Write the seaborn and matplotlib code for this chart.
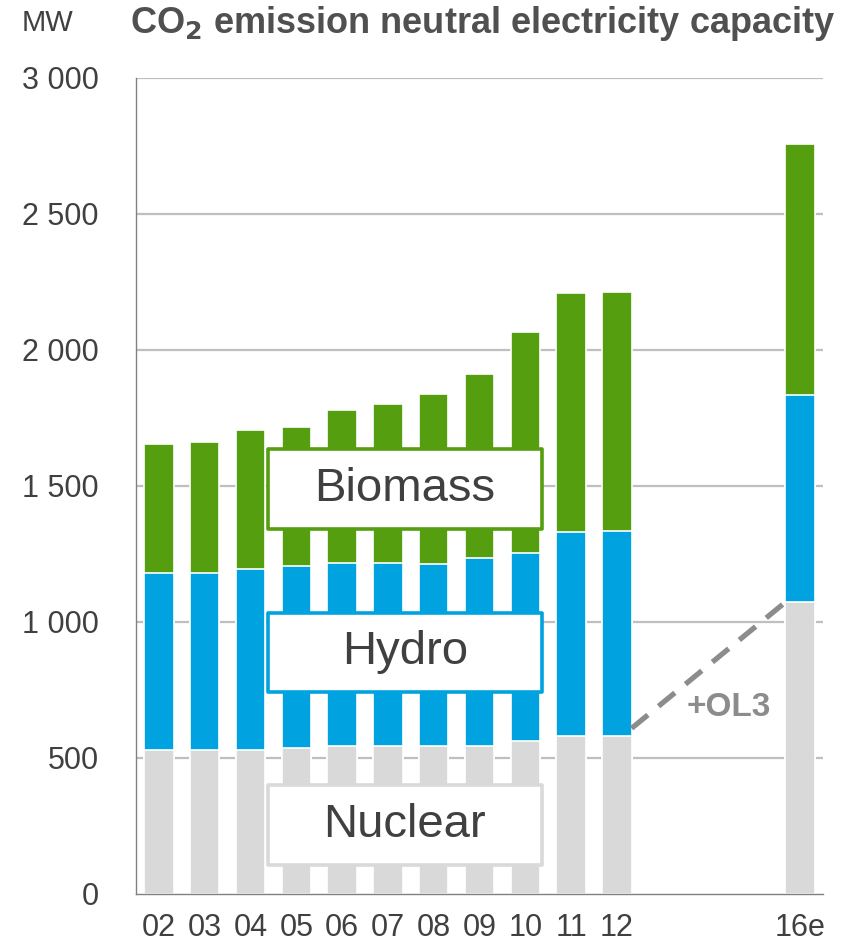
import numpy as np
import pandas as pd
import matplotlib
matplotlib.use("Agg")
import matplotlib.pyplot as plt
import seaborn as sns
from matplotlib.patches import Rectangle

# 数据 (MW)
years = ["02", "03", "04", "05", "06", "07", "08", "09", "10", "11", "12", "16e"]
all_slots = ["02", "03", "04", "05", "06", "07", "08", "09", "10", "11", "12",
             "13", "14", "15", "16e"]
nuclear = [528, 528, 528, 537, 543, 543, 543, 543, 562, 578, 578, 1072]
hydro = [650, 652, 666, 669, 672, 673, 669, 690, 689, 752, 757, 760]
biomass = [477, 482, 511, 510, 564, 583, 625, 678, 813, 880, 876, 926]
tick_labels = ["02", "03", "04", "05", "06", "07", "08", "09", "10", "11", "12",
               "", "", "", "16e"]

GREEN = "#559E0F"
BLUE = "#00A3E0"
GREY = "#D9D9D9"
TEXT = "#404040"

sns.set_style("white")
plt.rcParams["font.family"] = ["Liberation Sans", "DejaVu Sans"]

df = pd.DataFrame({"year": years, "nuclear": nuclear, "hydro": hydro, "biomass": biomass})
df["lvl2"] = df["nuclear"] + df["hydro"]
df["lvl3"] = df["lvl2"] + df["biomass"]

fig = plt.figure(figsize=(8.62, 9.44), dpi=100)
ax = fig.add_axes([0.1578, 0.0533, 0.797, 0.8644])

# 网格线
for v in [500, 1000, 1500, 2000, 2500, 3000]:
    ax.axhline(v, color="#BFBFBF", lw=1.6, zorder=0)

# 叠加柱状图（从总量往下画）
for col, color in [("lvl3", GREEN), ("lvl2", BLUE), ("nuclear", GREY)]:
    sns.barplot(data=df, x="year", y=col, order=all_slots, color=color,
                width=0.64, edgecolor="white", linewidth=1.2, saturation=1,
                ax=ax, zorder=2)

ax.set_xlim(-0.5, len(all_slots) - 0.5)
ax.set_ylim(0, 3000)
ax.set_xlabel("")
ax.set_ylabel("")

# 坐标轴
sns.despine(ax=ax, top=True, right=True)
for s in ["left", "bottom"]:
    ax.spines[s].set_color("#808080")
    ax.spines[s].set_linewidth(1.0)
    ax.spines[s].set_zorder(3)

yt = [0, 500, 1000, 1500, 2000, 2500, 3000]
ax.set_yticks(yt)
ax.set_yticklabels([f"{v:,}".replace(",", " ") for v in yt], fontsize=22, color=TEXT)
ax.tick_params(axis="y", direction="out", length=7, width=1, color="#808080", pad=20)

ax.set_xticks(range(len(all_slots)))
ax.set_xticklabels(tick_labels, fontsize=22, color=TEXT)
ax.tick_params(axis="x", which="major", length=0, pad=14)
ax.set_xticks(np.arange(-0.5, len(all_slots)), minor=True)
ax.tick_params(axis="x", which="minor", direction="out", length=8, width=1, color="#808080")

# 系列标签框
boxes = [("Biomass", 1341, 1635, GREEN), ("Hydro", 742, 1032, BLUE), ("Nuclear", 107, 400, GREY)]
for name, y0, y1, ec in boxes:
    ax.add_patch(Rectangle((2.38, y0), 5.98, y1 - y0, facecolor="white", edgecolor=ec,
                           lw=2.6, joinstyle="round", zorder=5))
    ax.text(5.37, (y0 + y1) / 2, name, ha="center", va="center", fontsize=34,
            color=TEXT, zorder=6)

# OL3 虚线
ax.plot([10 + 0.32, 14 - 0.32], [nuclear[10] + 30, nuclear[11]], color="#8C8C8C",
        lw=3.8, dashes=(4, 2.6), zorder=4, solid_capstyle="butt")
ax.text(12.45, 686, "+OL3", ha="center", va="center", fontsize=24,
        fontweight="bold", color="#8C8C8C", zorder=6)

# 标题
fig.text(0.151, 0.965, "CO$_\\mathbf{2}$ emission neutral electricity capacity",
         fontsize=26, fontweight="bold", color="#505050", ha="left", va="baseline")
fig.text(0.025, 0.976, "MW", fontsize=21, color=TEXT, ha="left", va="center")

fig.savefig("out.png", dpi=100)
